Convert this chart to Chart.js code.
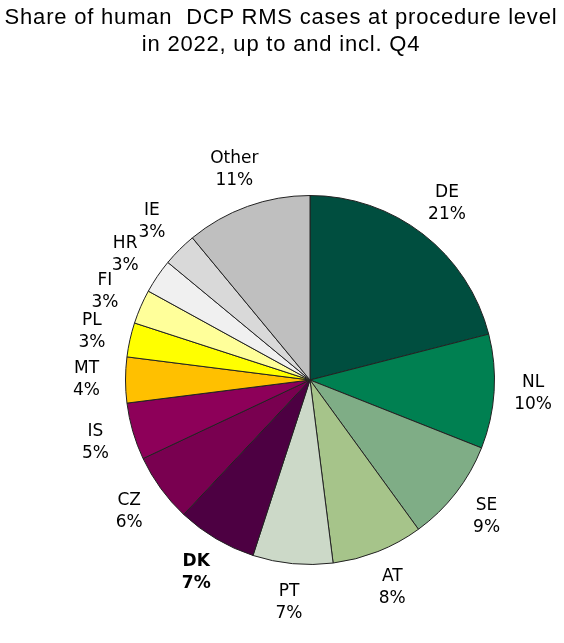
<!DOCTYPE html>
<html>
<head>
<meta charset="utf-8">
<script src="https://cdn.jsdelivr.net/npm/chart.js@4/dist/chart.umd.min.js"></script>
<style>
  body { margin: 0; background: #fff; }
  #wrap { position: relative; width: 564px; height: 643px; }
  #title {
    position: absolute; left: 0; top: 3px; width: 562px;
    text-align: center; font-family: "Liberation Sans", Arial, sans-serif;
    font-size: 22px; letter-spacing: 0.8px; line-height: 27px; color: #000; white-space: pre;
  }
</style>
</head>
<body>
<div id="wrap">
  <div id="title">Share of human  DCP RMS cases at procedure level
in 2022, up to and incl. Q4</div>
  <canvas id="pie" width="564" height="643"></canvas>
</div>
<script>
// countries, clockwise from 12 o'clock
const countries = ["DE", "NL", "SE", "AT", "PT", "DK", "CZ", "IS", "MT", "PL", "FI", "HR", "IE", "Other"];
const shares = [21, 10, 9, 8, 7, 7, 6, 5, 4, 3, 3, 3, 3, 11];
const colours = ["#004E3F", "#008051", "#7FAD86", "#A6C48A", "#CCD9C8", "#4D0042", "#790050",
                 "#8D0059", "#FFC000", "#FFFF00", "#FFFF9A", "#F0F0F0", "#D9D9D9", "#BFBFBF"];
const boldLabel = "DK";

// labels outside each slice: name on one line, percentage below
const outsideLabels = {
  id: "outsideLabels",
  afterDatasetsDraw(chart) {
    const ctx = chart.ctx;
    const arcs = chart.getDatasetMeta(0).data;
    ctx.save();
    ctx.fillStyle = "#000";
    ctx.textAlign = "center";
    ctx.textBaseline = "middle";
    arcs.forEach((arc, i) => {
      const mid = (arc.startAngle + arc.endAngle) / 2;
      const r = arc.outerRadius + 39;
      const x = arc.x + Math.cos(mid) * r;
      const y = arc.y + Math.sin(mid) * r;
      const weight = countries[i] === boldLabel ? "bold " : "";
      ctx.font = weight + "17px 'DejaVu Sans', Verdana, sans-serif";
      ctx.fillText(countries[i], x, y - 11);
      ctx.fillText(shares[i] + "%", x, y + 11);
    });
    ctx.restore();
  }
};

new Chart(document.getElementById("pie"), {
  type: "pie",
  data: {
    labels: countries,
    datasets: [{
      data: shares,
      backgroundColor: colours,
      borderColor: "#222",
      borderWidth: 1
    }]
  },
  options: {
    responsive: false,
    animation: false,
    layout: { padding: { left: 125, right: 69, top: 195, bottom: 78 } },
    plugins: {
      legend: { display: false },
      tooltip: { enabled: false },
      title: { display: false }
    }
  },
  plugins: [outsideLabels]
});
</script>
</body>
</html>
